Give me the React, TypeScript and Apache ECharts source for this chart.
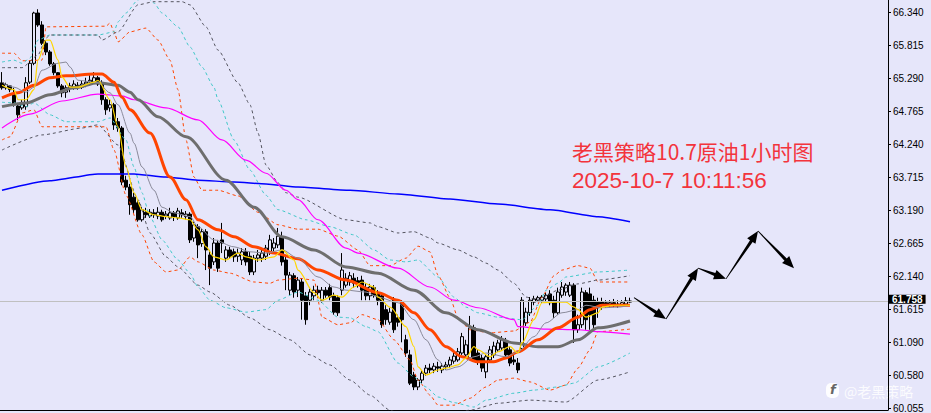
import React, { useEffect, useRef } from 'react';
import * as echarts from 'echarts';

// ---------- axis ----------
const SLOT_COUNT = 222;
const tickLabels = ['60.055', '60.580', '61.090', '61.615', '62.140', '62.665', '63.190', '63.715', '64.240', '64.765', '65.290', '65.815', '66.340'];
const tickStart = 60.055;
const tickStep = 0.525;
const priceMin = 60.024;
const priceMax = 66.547;
const lastPrice = 61.758;

// ---------- candles: [open, close, low, high] ----------
const candles: number[][] = [
  [65.23, 65.15, 65.12, 65.40], [65.15, 65.20, 65.12, 65.23], [65.18, 65.12, 65.08, 65.19], [65.04, 64.88, 64.85, 65.15],
  [64.86, 64.72, 64.64, 64.91], [64.83, 64.89, 64.80, 64.96], [64.85, 65.23, 64.80, 65.32], [65.24, 65.54, 65.21, 65.59],
  [65.54, 66.34, 65.51, 66.36], [66.34, 66.15, 66.12, 66.40], [66.15, 65.86, 65.83, 66.21], [65.86, 65.72, 65.67, 65.91],
  [65.72, 65.53, 65.50, 65.75], [65.53, 65.39, 65.35, 65.56], [65.39, 65.18, 65.15, 65.40], [65.18, 65.07, 65.00, 65.21],
  [65.08, 65.15, 64.99, 65.19], [65.15, 65.18, 65.08, 65.23], [65.16, 65.21, 65.12, 65.27], [65.19, 65.16, 65.12, 65.24],
  [65.16, 65.21, 65.13, 65.26], [65.21, 65.24, 65.16, 65.31], [65.24, 65.27, 65.19, 65.35], [65.24, 65.31, 65.21, 65.40],
  [65.31, 65.21, 65.18, 65.34], [65.21, 64.96, 64.88, 65.27], [64.96, 64.80, 64.72, 65.00], [64.83, 64.88, 64.77, 64.96],
  [64.88, 64.56, 64.48, 64.91], [64.61, 64.51, 64.45, 64.67], [64.51, 63.65, 63.60, 64.54], [63.68, 63.57, 63.52, 63.75],
  [63.57, 63.29, 63.13, 63.62], [63.41, 63.21, 63.16, 63.48], [63.32, 63.05, 63.02, 63.37], [63.05, 63.21, 63.02, 63.25],
  [63.17, 63.13, 63.08, 63.24], [63.11, 63.17, 63.08, 63.22], [63.16, 63.13, 63.08, 63.22], [63.11, 63.17, 63.06, 63.25],
  [63.17, 63.05, 63.02, 63.21], [63.11, 63.14, 63.06, 63.19], [63.08, 63.16, 63.05, 63.24], [63.16, 63.10, 63.03, 63.19],
  [63.08, 63.19, 63.05, 63.24], [63.16, 63.13, 63.08, 63.22], [63.10, 63.14, 63.05, 63.19], [63.14, 62.73, 62.68, 63.17],
  [62.76, 62.97, 62.70, 63.02], [62.94, 62.65, 62.44, 62.98], [62.67, 62.86, 62.62, 62.90], [62.86, 62.57, 62.25, 62.90],
  [62.49, 62.28, 62.01, 62.57], [62.38, 62.68, 62.33, 62.76], [62.68, 62.28, 62.22, 62.73], [62.73, 62.68, 62.52, 63.00],
  [62.44, 62.57, 62.38, 62.63], [62.57, 62.47, 62.43, 62.62], [62.54, 62.46, 62.38, 62.59], [62.47, 62.52, 62.38, 62.59],
  [62.41, 62.54, 62.33, 62.60], [62.54, 62.38, 62.32, 62.60], [62.47, 62.22, 62.17, 62.54], [62.22, 62.44, 62.17, 62.49],
  [62.44, 62.49, 62.38, 62.57], [62.44, 62.52, 62.38, 62.60], [62.47, 62.60, 62.41, 62.65], [62.54, 62.73, 62.49, 62.81],
  [62.60, 62.68, 62.54, 62.76], [62.65, 62.79, 62.60, 62.92], [62.78, 62.38, 62.32, 62.86], [62.41, 62.17, 61.93, 62.49],
  [61.93, 62.17, 61.85, 62.22], [62.16, 61.90, 61.81, 62.20], [61.93, 62.09, 61.82, 62.14], [62.06, 61.77, 61.46, 62.12],
  [61.84, 61.46, 61.38, 61.90], [61.77, 61.90, 61.69, 61.95], [61.84, 61.93, 61.77, 62.00], [61.93, 61.89, 61.81, 62.00],
  [61.77, 61.93, 61.73, 61.98], [61.93, 61.85, 61.81, 61.98], [61.97, 61.82, 61.77, 62.03], [61.84, 61.58, 61.54, 61.89],
  [61.81, 61.57, 61.52, 61.85], [61.93, 62.25, 61.85, 62.52], [62.01, 62.12, 61.97, 62.20], [62.06, 62.16, 62.00, 62.22],
  [62.12, 62.04, 61.97, 62.20], [62.08, 62.03, 61.97, 62.14], [62.09, 61.93, 61.77, 62.16], [61.97, 61.84, 61.77, 62.04],
  [61.84, 61.98, 61.77, 62.03], [61.97, 61.85, 61.81, 62.01], [61.89, 61.77, 61.69, 61.93], [61.84, 61.38, 61.33, 61.89],
  [61.62, 61.46, 61.38, 61.69], [61.42, 61.58, 61.38, 61.65], [61.77, 61.30, 61.25, 61.82], [61.49, 61.42, 61.35, 61.54],
  [61.74, 61.46, 61.10, 61.77], [61.14, 60.93, 60.87, 61.22], [60.90, 60.45, 60.42, 60.98], [60.58, 60.39, 60.34, 60.63],
  [60.39, 60.50, 60.34, 60.53], [60.50, 60.61, 60.45, 60.66], [60.61, 60.69, 60.57, 60.74], [60.69, 60.66, 60.61, 60.76],
  [60.66, 60.72, 60.61, 60.77], [60.71, 60.69, 60.63, 60.79], [60.66, 60.72, 60.61, 60.77], [60.71, 60.74, 60.66, 60.79],
  [60.74, 60.82, 60.69, 60.87], [60.80, 60.88, 60.76, 60.93], [60.82, 60.95, 60.79, 61.01], [60.93, 61.19, 60.90, 61.25],
  [60.90, 61.06, 60.85, 61.14], [60.85, 61.33, 60.82, 61.52], [61.33, 60.82, 60.79, 61.38], [60.93, 60.79, 60.74, 60.98],
  [60.85, 60.69, 60.63, 60.90], [60.63, 60.87, 60.53, 60.91], [60.82, 60.98, 60.79, 61.04], [60.90, 61.04, 60.85, 61.11],
  [60.98, 61.09, 60.95, 61.14], [61.01, 61.14, 60.98, 61.20], [61.11, 60.90, 60.85, 61.17], [60.98, 60.77, 60.72, 61.03],
  [60.82, 60.79, 60.74, 60.90], [60.77, 60.66, 60.61, 60.85], [61.00, 61.77, 60.95, 61.82], [61.41, 61.58, 61.36, 61.65],
  [61.57, 61.77, 61.52, 61.82], [61.74, 61.79, 61.69, 61.84], [61.77, 61.81, 61.74, 61.84], [61.77, 61.82, 61.73, 61.85],
  [61.79, 61.85, 61.74, 61.89], [61.87, 61.73, 61.69, 61.93], [61.77, 61.57, 61.49, 61.84], [61.57, 61.90, 61.54, 61.97],
  [61.85, 61.98, 61.81, 62.06], [61.90, 62.01, 61.84, 62.04], [61.85, 62.01, 61.82, 62.06], [62.01, 61.30, 61.09, 62.04],
  [61.30, 61.38, 61.25, 61.54], [61.38, 61.90, 61.33, 61.97], [61.89, 61.46, 61.30, 61.93], [61.87, 61.54, 61.30, 61.97],
  [61.77, 61.38, 61.30, 61.84], [61.74, 61.65, 61.49, 61.81], [61.74, 61.69, 61.62, 61.81], [61.73, 61.69, 61.65, 61.77],
  [61.71, 61.73, 61.65, 61.77], [61.73, 61.71, 61.66, 61.79], [61.71, 61.69, 61.65, 61.77], [61.69, 61.73, 61.68, 61.77],
  [61.71, 61.76, 61.68, 61.82], [61.74, 61.758, 61.73, 61.81],
];

// ---------- indicator lines: [bar index, price] ----------
const maFast = [[0, 65.19], [3, 65.12], [4, 64.96], [6, 64.96], [8, 65.12], [9, 65.59], [11, 65.91], [12, 65.91], [14, 65.59], [15, 65.32], [17, 65.16], [19, 65.16], [23, 65.24], [24, 65.27], [27, 64.96], [29, 64.53], [31, 63.89], [33, 63.48], [35, 63.21], [38, 63.13], [41, 63.10], [44, 63.08], [47, 63.05], [49, 62.89], [51, 62.62], [53, 62.46], [56, 62.41], [59, 62.52], [61, 62.46], [64, 62.41], [68, 62.46], [70, 62.57], [73, 62.41], [74, 62.25], [78, 61.89], [80, 61.77], [83, 61.85], [85, 61.82], [88, 61.98], [90, 62.06], [93, 61.98], [94, 61.82], [97, 61.66], [101, 61.35], [103, 61.03], [104, 60.71], [106, 60.58], [109, 60.66], [111, 60.69], [114, 60.74], [116, 60.85], [118, 61.03], [119, 60.98], [122, 60.87], [124, 60.95], [127, 61.03], [129, 60.93], [130, 61.09], [133, 61.46], [135, 61.73], [139, 61.74], [141, 61.74], [143, 61.66], [144, 61.62], [146, 61.50], [149, 61.57], [150, 61.66], [153, 61.69], [157, 61.69]];
const maMid = [[0, 65.24], [3, 65.16], [6, 65.08], [8, 65.16], [10, 65.43], [14, 65.54], [16, 65.56], [17, 65.48], [19, 65.27], [24, 65.23], [27, 65.07], [29, 64.88], [32, 64.43], [33, 64.27], [35, 63.89], [38, 63.52], [40, 63.25], [43, 63.16], [47, 63.10], [49, 62.94], [53, 62.73], [58, 62.62], [62, 62.54], [66, 62.52], [70, 62.57], [74, 62.44], [79, 62.14], [83, 61.98], [86, 61.93], [91, 61.90], [94, 61.82], [99, 61.73], [103, 61.46], [106, 61.14], [109, 60.82], [111, 60.66], [114, 60.71], [118, 60.87], [121, 60.93], [126, 60.87], [129, 60.95], [133, 61.19], [136, 61.41], [140, 61.57], [144, 61.62], [146, 61.69], [150, 61.65], [154, 61.66], [157, 61.69]];
const maOrange = [[0, 64.99], [4, 65.07], [8, 65.19], [12, 65.31], [16, 65.34], [23, 65.37], [25, 65.37], [28, 65.24], [30, 65.00], [32, 64.80], [37, 64.43], [42, 63.73], [46, 63.37], [49, 63.05], [54, 62.89], [58, 62.78], [63, 62.62], [68, 62.52], [74, 62.43], [79, 62.25], [86, 62.09], [94, 61.89], [99, 61.77], [103, 61.57], [107, 61.30], [111, 61.03], [115, 60.87], [119, 60.79], [123, 60.79], [126, 60.85], [129, 60.95], [134, 61.14], [139, 61.33], [144, 61.50], [147, 61.62], [150, 61.69], [157, 61.69]];
const maSlow = [[0, 64.85], [6, 64.91], [12, 65.04], [18, 65.15], [24, 65.23], [29, 65.19], [32, 65.08], [34, 64.96], [39, 64.69], [46, 64.37], [56, 63.68], [63, 63.25], [70, 62.78], [78, 62.57], [86, 62.30], [94, 62.20], [103, 61.93], [111, 61.57], [119, 61.30], [128, 61.09], [134, 61.03], [139, 61.03], [144, 61.14], [149, 61.33], [157, 61.44]];
const maMagenta = [[0, 64.51], [7, 64.73], [15, 64.94], [24, 65.05], [30, 65.02], [33, 64.96], [41, 64.83], [49, 64.64], [55, 64.32], [61, 64.00], [66, 63.79], [71, 63.52], [74, 63.37], [79, 63.05], [86, 62.60], [89, 62.52], [99, 62.28], [107, 61.98], [113, 61.77], [119, 61.65], [128, 61.46], [129, 61.35], [136, 61.31], [144, 61.30], [149, 61.27], [157, 61.23]];
const maBlue = [[0, 63.52], [12, 63.67], [24, 63.78], [33, 63.78], [41, 63.73], [49, 63.68], [58, 63.65], [66, 63.62], [74, 63.57], [87, 63.52], [99, 63.46], [112, 63.38], [124, 63.30], [137, 63.21], [149, 63.10], [157, 63.02]];

const bandOrangeUp = [[0, 65.70], [3, 65.70], [5, 65.58], [10, 65.59], [11, 66.12], [26, 66.13], [27, 66.18], [28, 66.04], [29, 65.88], [32, 66.04], [36, 66.10], [39, 65.91], [42, 65.59], [44, 65.12], [46, 64.32], [48, 63.73], [50, 63.52], [54, 63.52], [59, 63.43], [64, 63.17], [69, 62.97], [74, 62.90], [79, 62.90], [84, 62.79], [89, 62.57], [92, 62.32], [97, 62.32], [101, 62.44], [104, 62.63], [107, 62.54], [109, 62.17], [112, 61.81], [114, 61.49], [117, 61.30], [122, 61.25], [128, 61.28], [132, 61.42], [135, 61.82], [138, 62.16], [140, 62.25], [144, 62.32], [147, 62.28], [149, 62.06], [157, 62.06]];
const bandOrangeDown = [[0, 64.32], [2, 64.37], [5, 64.75], [8, 64.80], [10, 64.53], [26, 64.53], [28, 64.16], [31, 63.44], [35, 62.81], [38, 62.38], [41, 62.22], [44, 62.25], [47, 62.46], [49, 62.38], [53, 62.25], [57, 62.20], [63, 62.06], [67, 62.04], [69, 62.09], [74, 62.12], [78, 62.09], [80, 61.50], [84, 61.38], [87, 61.41], [90, 61.54], [94, 61.46], [98, 61.14], [102, 60.82], [104, 60.50], [107, 60.26], [109, 60.10], [113, 60.10], [117, 60.21], [121, 60.39], [124, 60.50], [128, 60.53], [132, 60.47], [137, 60.34], [141, 60.42], [144, 60.69], [147, 60.98], [149, 61.27], [157, 61.31]];
const bandCyanUp = [[0, 65.56], [3, 65.59], [5, 65.54], [7, 65.62], [9, 65.91], [12, 65.99], [24, 65.99], [28, 66.04], [29, 66.20], [31, 66.34], [34, 66.55], [36, 66.60], [38, 66.50], [40, 66.34], [44, 66.12], [47, 65.80], [50, 65.48], [53, 65.16], [54, 64.96], [58, 64.32], [62, 63.84], [66, 63.44], [69, 63.21], [76, 63.05], [82, 62.94], [88, 62.81], [93, 62.57], [97, 62.41], [101, 62.38], [104, 62.41], [109, 62.14], [113, 61.82], [116, 61.66], [119, 61.57], [124, 61.50], [130, 61.46], [134, 61.69], [136, 61.93], [139, 62.04], [141, 62.14], [149, 62.22], [157, 62.25]];
const bandCyanDown = [[0, 64.92], [3, 64.91], [6, 64.85], [8, 64.91], [12, 64.72], [16, 64.61], [24, 64.61], [27, 64.67], [31, 64.32], [33, 63.89], [35, 63.48], [37, 63.10], [40, 62.73], [44, 62.41], [47, 62.20], [49, 61.98], [52, 61.77], [56, 61.65], [61, 61.58], [66, 61.62], [69, 61.77], [74, 61.90], [79, 61.77], [84, 61.50], [87, 61.49], [91, 61.35], [94, 61.27], [99, 60.77], [103, 60.55], [106, 60.39], [109, 60.23], [113, 60.14], [118, 60.07], [121, 60.18], [128, 60.29], [133, 60.34], [139, 60.39], [143, 60.45], [149, 60.71], [157, 60.93]];
const bandGrayUp = [[0, 65.47], [5, 65.47], [9, 65.67], [11, 65.94], [12, 65.99], [24, 65.99], [25, 65.91], [29, 66.04], [34, 66.47], [38, 66.52], [45, 66.52], [47, 66.47], [51, 66.12], [54, 65.75], [59, 65.23], [62, 64.88], [64, 64.43], [66, 63.92], [69, 63.64], [71, 63.48], [74, 63.41], [86, 63.05], [92, 63.00], [94, 62.94], [99, 62.84], [103, 62.86], [107, 62.76], [109, 62.68], [114, 62.57], [118, 62.46], [121, 62.36], [124, 62.25], [128, 62.04], [131, 61.82], [134, 61.77], [139, 61.93], [144, 62.03], [149, 62.09], [157, 62.16]];
const bandGrayDown = [[0, 64.16], [10, 64.40], [20, 64.51], [24, 64.56], [29, 64.24], [34, 63.37], [37, 62.84], [41, 62.46], [44, 62.30], [49, 62.01], [52, 61.90], [57, 61.69], [62, 61.49], [67, 61.30], [72, 61.14], [77, 60.90], [82, 60.74], [87, 60.50], [92, 60.26], [97, 60.02], [102, 59.86], [109, 59.90], [117, 60.02], [124, 60.13], [132, 60.18], [141, 60.15], [149, 60.50], [157, 60.63]];

// ---------- forecast arrows: [bar index, price] waypoints ----------
const arrowPath = [[158, 61.81], [166, 61.47], [174, 62.28], [181, 62.11], [189, 62.87], [198, 62.28]];

const titleLine1 = '老黑策略10.7原油1小时图';
const titleLine2 = '2025-10-7 10:11:56';
const watermark = '@老黑策略';

const BG = '#e6e6fa';

function lineSeries(data: number[][], color: string, width: number, dashed = false, smooth = 0.3) {
  return {
    type: 'line',
    data,
    symbol: 'none',
    silent: true,
    smooth,
    smoothMonotone: 'x',
    lineStyle: { color, width, type: dashed ? [3, 3] : 'solid' },
    z: dashed ? 3 : 4,
  };
}

export default function App() {
  const ref = useRef<HTMLDivElement>(null);
  useEffect(() => {
    if (!ref.current) return;
    const chart = echarts.init(ref.current, null, { renderer: 'svg' });
    const cats = Array.from({ length: SLOT_COUNT }, (_, i) => String(i));
    const tickValues = tickLabels.map((_, k) => tickStart + k * tickStep);
    const segments = arrowPath.slice(1).map((p, k) => [arrowPath[k][0], arrowPath[k][1], p[0], p[1]]);

    chart.setOption({
      animation: false,
      backgroundColor: BG,
      grid: { left: 0, right: 43, top: 0, bottom: 3 },
      xAxis: {
        type: 'category',
        data: cats,
        boundaryGap: true,
        axisLine: { show: true, lineStyle: { color: '#000', width: 1 } },
        axisTick: { show: false },
        axisLabel: { show: false },
        splitLine: { show: false },
      },
      yAxis: {
        type: 'value',
        position: 'right',
        min: priceMin,
        max: priceMax,
        scale: true,
        axisLine: { show: true, lineStyle: { color: '#000', width: 1 } },
        axisTick: { show: true, length: 3, customValues: tickValues, lineStyle: { color: '#000' } },
        axisLabel: {
          show: true,
          margin: 5,
          customValues: tickValues,
          color: '#000',
          fontSize: 10,
          lineHeight: 9,
          fontFamily: 'Liberation Sans',
          formatter: (v: number) => tickLabels[Math.round((v - tickStart) / tickStep)] ?? '',
        },
        splitLine: { show: false },
      },
      series: [
        {
          type: 'candlestick',
          data: candles,
          barWidth: 3,
          itemStyle: { color: BG, color0: '#000', borderColor: '#000', borderColor0: '#000', borderWidth: 1 },
          z: 2,
          markLine: {
            silent: true,
            symbol: 'none',
            animation: false,
            lineStyle: { color: '#c0c0c0', width: 1, type: 'solid' },
            label: {
              show: true,
              position: 'end',
              distance: 1,
              offset: [0, -1.5],
              formatter: lastPrice.toFixed(3),
              color: '#fff',
              backgroundColor: '#000',
              padding: [0, 3, 0, 3],
              lineHeight: 9,
              fontSize: 10,
              fontWeight: 'bold',
              fontFamily: 'Liberation Sans',
            },
            data: [{ yAxis: lastPrice }],
          },
        },
        lineSeries(bandOrangeUp, '#ff4500', 1, true, 0.2),
        lineSeries(bandOrangeDown, '#ff4500', 1, true, 0.2),
        lineSeries(bandCyanUp, '#40c8c8', 1, true, 0.2),
        lineSeries(bandCyanDown, '#40c8c8', 1, true, 0.2),
        lineSeries(bandGrayUp, '#555560', 1, true, 0.2),
        lineSeries(bandGrayDown, '#555560', 1, true, 0.2),
        lineSeries(maBlue, '#0000ff', 1.5, false, 0.2),
        lineSeries(maMagenta, '#ff00ff', 1.2),
        lineSeries(maSlow, '#6e6e6e', 3),
        lineSeries(maOrange, '#ff4500', 3),
        lineSeries(maMid, '#8a8a9a', 1),
        lineSeries(maFast, '#ffd700', 1.2),
        {
          type: 'custom',
          data: segments,
          encode: { x: [0, 2], y: [1, 3] },
          silent: true,
          clip: false,
          z: 6,
          renderItem: (params: any, api: any) => {
            const a = api.coord([api.value(0), api.value(1)]);
            const b = api.coord([api.value(2), api.value(3)]);
            const dx = b[0] - a[0];
            const dy = b[1] - a[1];
            const len = Math.hypot(dx, dy) || 1;
            const ux = dx / len;
            const uy = dy / len;
            const nx = -uy;
            const ny = ux;
            const headLen = 12;
            const headW = 5;
            const shaftW = 1.6;
            const tailW = 0.4;
            const hb = [b[0] - ux * headLen, b[1] - uy * headLen];
            const pts = [
              [a[0] + nx * tailW, a[1] + ny * tailW],
              [hb[0] + nx * shaftW, hb[1] + ny * shaftW],
              [hb[0] + nx * headW, hb[1] + ny * headW],
              [b[0], b[1]],
              [hb[0] - nx * headW, hb[1] - ny * headW],
              [hb[0] - nx * shaftW, hb[1] - ny * shaftW],
              [a[0] - nx * tailW, a[1] - ny * tailW],
            ];
            return { type: 'polygon', shape: { points: pts }, style: { fill: '#000' } };
          },
        },
      ],
      graphic: [
        {
          type: 'text',
          left: 572,
          top: 140,
          style: { text: titleLine1, fill: '#f3343c', font: '21px "Noto Sans CJK SC", sans-serif', lineHeight: 22 },
        },
        {
          type: 'text',
          left: 572,
          top: 169,
          style: { text: titleLine2, fill: '#f3343c', font: '22.5px "Liberation Sans", sans-serif', lineHeight: 22 },
        },
        {
          type: 'rect',
          left: 826,
          top: 383,
          shape: { width: 13, height: 15, r: 5 },
          style: { fill: 'rgba(255,255,255,0.9)' },
        },
        {
          type: 'text',
          left: 830,
          top: 383,
          style: { text: 'f', fill: '#666', font: 'italic bold 13px "DejaVu Sans", sans-serif' },
        },
        {
          type: 'text',
          left: 844,
          top: 384,
          style: { text: watermark, fill: 'rgba(255,255,255,0.85)', font: '14px "Noto Sans CJK SC", sans-serif' },
        },
      ],
    });
    return () => chart.dispose();
  }, []);

  return (
    <div
      ref={ref}
      style={{ position: 'fixed', left: 0, top: 0, width: 931, height: 413, background: BG }}
    />
  );
}
